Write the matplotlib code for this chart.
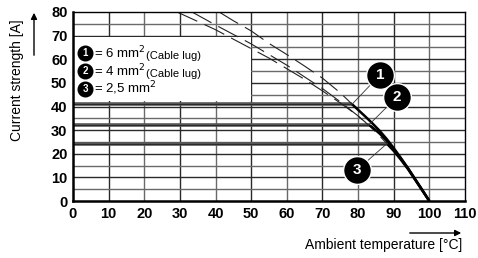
import matplotlib
matplotlib.use("Agg")
import matplotlib.pyplot as plt
import numpy as np
from matplotlib.patches import Rectangle, FancyArrowPatch

plt.rcParams['font.family'] = ['Liberation Sans', 'DejaVu Sans']

# ---- data ----
x_ticks = [0, 10, 20, 30, 40, 50, 60, 70, 80, 90, 100, 110]
y_ticks = [0, 10, 20, 30, 40, 50, 60, 70, 80]
y_minor = [5, 15, 25, 35, 45, 55, 65, 75]

labels = ["1", "2", "3"]
legend_texts = [r"= 6 mm$^2$", r"= 4 mm$^2$", r"= 2,5 mm$^2$"]
legend_suffix = ["(Cable lug)", "(Cable lug)", ""]
flat_values = [41, 32, 24]

curve1_T = [41, 45, 50, 55, 60, 65, 70, 75, 78.3, 80, 82, 84, 86, 88, 90, 92, 94, 96, 98, 100]
curve1_I = [80, 76.3, 72, 66.7, 62, 57.1, 52, 45.8, 41, 38.6, 35.8, 32.9, 29.8, 26.3, 22.4, 18.2, 13.9, 9.3, 4.7, 0]
curve2_T = [33.4, 40, 45, 50, 55, 60, 65, 70, 75, 80, 82, 83.3, 84, 86, 88, 90, 92, 94, 96, 98, 100]
curve2_I = [80, 74.5, 70.5, 66.5, 62, 57.5, 52.5, 47.6, 42, 36, 33.3, 32, 31.2, 28.6, 25.6, 22, 18, 13.8, 9.2, 4.6, 0]
curve3_T = [29.2, 35, 40, 45, 50, 55, 60, 65, 70, 75, 80, 82, 84, 86, 88, 90, 92, 94, 96, 98, 100]
curve3_I = [80, 76, 72.5, 68.5, 64.5, 60.5, 56, 51.5, 46.6, 41.5, 36, 33.4, 30.6, 27.6, 24.4, 21.2, 17.5, 13.5, 9, 4.5, 0]

callout_pos = [(86.1, 53.3), (90.9, 44.0), (79.7, 13.1)]
callout_target = [(78.2, 40.8), (83.0, 32.2), (88.1, 24.3)]

# ---- figure ----
fig = plt.figure(figsize=(4.78, 2.58), dpi=100)
ax = fig.add_axes([0.1527, 0.2209, 0.8201, 0.7326])
ax.set_xlim(0, 110)
ax.set_ylim(0, 80)

# grid
for i, x in enumerate(x_ticks[1:-1]):
    ax.axvline(x, color='#2a2a2a' if i % 2 == 0 else '#6a6a6a', lw=1.0, zorder=1)
for y in y_ticks[1:-1]:
    ax.axhline(y, color='#2a2a2a', lw=1.0, zorder=1)
for y in y_minor:
    ax.axhline(y, color='#6a6a6a', lw=1.0, zorder=1)

# legend box (white)
ax.add_patch(Rectangle((0.3, 42.3), 49.7, 27.0, facecolor='white', edgecolor='none', zorder=2))

curves = [(curve1_T, curve1_I), (curve2_T, curve2_I), (curve3_T, curve3_I)]
for (T, I), fv in zip(curves, flat_values):
    T = np.array(T, dtype=float)
    I = np.array(I, dtype=float)
    t_meet = np.interp(fv, I[::-1], T[::-1])
    # flat line
    ax.plot([0, t_meet], [fv, fv], color='#555555', lw=2.6, zorder=3, solid_capstyle='butt')
    ax.plot([0, t_meet], [fv, fv], color='#222222', lw=0.6, zorder=3)
    # dashed part
    up = I > fv
    Td = np.append(T[up], t_meet)
    Id = np.append(I[up], fv)
    ax.plot(Td, Id, color='#222222', lw=0.8, ls=(0, (20, 7)), zorder=3)
    # solid part
    lo = I < fv
    Ts = np.insert(T[lo], 0, t_meet)
    Is = np.insert(I[lo], 0, fv)
    ax.plot(Ts, Is, color='black', lw=1.8, zorder=4, solid_capstyle='butt',
            solid_joinstyle='round')

# callouts
for lab, (cx, cy), (tx, ty) in zip(labels, callout_pos, callout_target):
    ax.plot([cx, tx], [cy, ty], color='#333333', lw=0.6, zorder=5)
    ax.plot([cx], [cy], marker='o', ms=20, color='black', mec='white', mew=1.0, zorder=6)
    ax.text(cx, cy, lab, color='white', fontsize=11, fontweight='bold',
            ha='center', va='center', zorder=7)

# legend entries
leg_y = [62.8, 55.2, 47.6]
for lab, t, s, y in zip(labels, legend_texts, legend_suffix, leg_y):
    ax.plot([3.4], [y], marker='o', ms=10.5, color='black', zorder=6)
    ax.text(3.4, y, lab, color='white', fontsize=7, fontweight='bold',
            ha='center', va='center', zorder=7)
    txt = ax.text(5.9, y, t, fontsize=9.5, ha='left', va='center', zorder=7)
    if s:
        ax.annotate(s, xy=(1, 0), xycoords=txt, xytext=(0.5, 0), textcoords='offset points',
                    fontsize=8, ha='left', va='bottom', zorder=7)

# ticks
ax.set_xticks(x_ticks)
ax.set_yticks(y_ticks)
ax.set_xticklabels([str(v) for v in x_ticks], fontweight='bold', fontsize=10.5)
ax.set_yticklabels([str(v) for v in y_ticks], fontweight='bold', fontsize=10.5)
ax.tick_params(length=0, pad=4)

for sp in ['left', 'bottom']:
    ax.spines[sp].set_linewidth(1.8)
for sp in ['top', 'right']:
    ax.spines[sp].set_linewidth(1.0)
for sp in ax.spines.values():
    sp.set_zorder(8)

# axis labels with arrows
fig.text(17 / 478, 1 - 80 / 258, "Current strength [A]", rotation=90, fontsize=10,
         ha='center', va='center')
fig.add_artist(FancyArrowPatch(
    (34 / 478, 1 - 58 / 258), (34 / 478, 1 - 10 / 258), transform=fig.transFigure,
    arrowstyle='-|>', mutation_scale=9, color='black', lw=1.0))
fig.text(462 / 478, 1 - 245 / 258, "Ambient temperature [°C]", fontsize=10,
         ha='right', va='center')
fig.add_artist(FancyArrowPatch(
    (407 / 478, 1 - 233 / 258), (464 / 478, 1 - 233 / 258), transform=fig.transFigure,
    arrowstyle='-|>', mutation_scale=9, color='black', lw=1.0))

fig.savefig("out.png", dpi=100)
